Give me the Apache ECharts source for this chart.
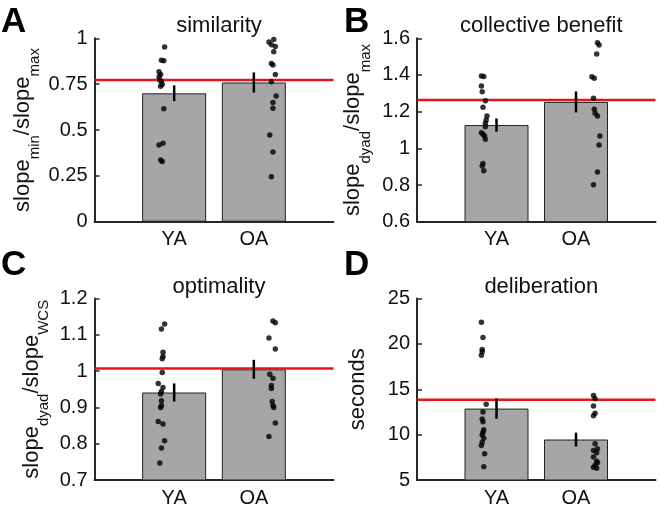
<!DOCTYPE html>
<html><head><meta charset="utf-8">
<script src="https://cdn.jsdelivr.net/npm/echarts@6/dist/echarts.min.js"></script>
<style>html,body{margin:0;padding:0;background:#fff}#c{width:660px;height:508px}</style>
</head><body><div id="c"></div>
<script>
// ---------- data ----------
const groups = ['YA', 'OA'];

// A: similarity
const simBar = [0.700, 0.759];
const simErr = [0.043, 0.055];
const simRef = 0.773;
const simYA = [0.953, 0.880, 0.877, 0.817, 0.803, 0.790, 0.772, 0.763, 0.748, 0.739, 0.616, 0.428, 0.418, 0.337, 0.328];
const simYAjit = [-0.12, -0.16, -0.13, -0.19, -0.17, -0.19, -0.18, -0.16, -0.15, -0.17, -0.13, -0.14, -0.19, -0.17, -0.15];
const simOA = [0.993, 0.980, 0.965, 0.955, 0.926, 0.862, 0.855, 0.803, 0.763, 0.685, 0.650, 0.618, 0.473, 0.380, 0.245];
const simOAjit = [0.25, 0.19, 0.22, 0.27, 0.25, 0.22, 0.24, 0.27, 0.22, 0.28, 0.24, 0.24, 0.20, 0.24, 0.22];

// B: collective benefit
const cbBar = [1.127, 1.253];
const cbErr = [0.036, 0.057];
const cbRef = 1.264;
const cbYA = [1.394, 1.392, 1.340, 1.309, 1.260, 1.224, 1.176, 1.155, 1.137, 1.118, 1.085, 1.077, 1.067, 1.049, 0.918, 0.904, 0.878];
const cbYAjit = [-0.19, -0.16, -0.19, -0.18, -0.14, -0.17, -0.12, -0.13, -0.14, -0.14, -0.19, -0.17, -0.15, -0.14, -0.17, -0.18, -0.16];
const cbOA = [1.576, 1.563, 1.514, 1.391, 1.382, 1.273, 1.213, 1.191, 1.176, 1.067, 1.018, 0.871, 0.802];
const cbOAjit = [0.27, 0.29, 0.26, 0.20, 0.23, 0.22, 0.23, 0.24, 0.27, 0.30, 0.29, 0.27, 0.22];

// C: optimality
const optBar = [0.941, 1.005];
const optErr = [0.025, 0.026];
const optRef = 1.007;
const optYA = [1.130, 1.116, 1.052, 1.040, 1.034, 0.996, 0.966, 0.955, 0.944, 0.937, 0.918, 0.905, 0.900, 0.861, 0.854, 0.808, 0.788, 0.747];
const optYAjit = [-0.12, -0.16, -0.14, -0.14, -0.15, -0.15, -0.20, -0.14, -0.16, -0.17, -0.16, -0.16, -0.17, -0.20, -0.14, -0.12, -0.16, -0.18];
const optOA = [1.138, 1.133, 1.091, 1.061, 0.991, 0.980, 0.960, 0.952, 0.916, 0.905, 0.900, 0.857, 0.820];
const optOAjit = [0.24, 0.27, 0.19, 0.27, 0.20, 0.24, 0.22, 0.22, 0.23, 0.24, 0.25, 0.27, 0.19];

// D: deliberation
const delBar = [12.87, 9.46];
const delErr = [1.12, 0.76];
const delRef = 13.84;
const delYA = [22.39, 20.70, 19.39, 19.13, 18.74, 13.34, 12.50, 11.71, 11.42, 10.54, 10.26, 9.97, 9.61, 9.17, 8.80, 7.90, 6.46];
const delYAjit = [-0.19, -0.17, -0.18, -0.18, -0.19, -0.13, -0.17, -0.18, -0.17, -0.16, -0.17, -0.18, -0.16, -0.18, -0.19, -0.15, -0.16];
const delOA = [14.32, 13.96, 13.15, 12.36, 12.07, 8.99, 8.45, 8.26, 8.01, 7.54, 7.07, 6.90, 6.63, 6.40, 6.30];
const delOAjit = [0.22, 0.24, 0.22, 0.24, 0.22, 0.24, 0.27, 0.22, 0.26, 0.22, 0.26, 0.27, 0.24, 0.22, 0.26];

// axis ranges / ticks
const yMin = [0, 0.6, 0.7, 5];
const yMax = [1, 1.6, 1.2, 25];
const yStep = [0.25, 0.2, 0.1, 5];
const titles = ['similarity', 'collective benefit', 'optimality', 'deliberation'];
const letters = ['A', 'B', 'C', 'D'];

// ---------- chart ----------
const F = '"Liberation Sans", Arial, Helvetica, sans-serif';
const TXT = '#111';
const AX = '#262626';
const grids = [
  {left: 94.5, top: 38.3, width: 239, height: 183.4},
  {left: 417, top: 38.3, width: 238.5, height: 183.4},
  {left: 94.5, top: 298.5, width: 239, height: 183.2},
  {left: 417, top: 298.5, width: 238.5, height: 183.2}
];
const names = [
  '{m|slope}{s|min}{m|/slope}{s|max}',
  '{m|slope}{s|dyad}{m|/slope}{s|max}',
  '{m|slope}{s|dyad}{m|/slope}{s|WCS}',
  '{m|seconds}'
];
const nameGaps = [52, 44, 43, 46];
const panels = [
  [simBar, simErr, simRef, simYA, simYAjit, simOA, simOAjit],
  [cbBar, cbErr, cbRef, cbYA, cbYAjit, cbOA, cbOAjit],
  [optBar, optErr, optRef, optYA, optYAjit, optOA, optOAjit],
  [delBar, delErr, delRef, delYA, delYAjit, delOA, delOAjit]
];

const xAxes = [], yAxes = [], series = [], title = [], graphic = [];
panels.forEach((p, i) => {
  const [bar, err, ref, ya, yaj, oa, oaj] = p;
  const g = grids[i];
  xAxes.push({
    gridIndex: i, type: 'value', min: 0, max: 3, interval: 1,
    axisLine: {show: true, onZero: false, lineStyle: {color: AX, width: 2}},
    axisTick: {show: false}, splitLine: {show: false},
    axisLabel: {fontSize: 20, fontFamily: F, color: TXT, margin: 8,
      formatter: v => (v >= 1 && v <= groups.length && Number.isInteger(v)) ? groups[v - 1] : ''}
  });
  yAxes.push({
    gridIndex: i, type: 'value', min: yMin[i], max: yMax[i], interval: yStep[i],
    axisLine: {show: true, lineStyle: {color: AX, width: 2}},
    axisTick: {show: true, inside: true, length: 5, lineStyle: {color: AX, width: 1.5}},
    splitLine: {show: false},
    axisLabel: {fontSize: 20, fontFamily: F, color: TXT, margin: 7},
    name: names[i], nameLocation: 'middle', nameRotate: 90, nameGap: nameGaps[i],
    nameTextStyle: {
      rich: {
        m: {fontSize: 22, fontFamily: F, color: TXT, lineHeight: 24, verticalAlign: 'top'},
        s: {fontSize: 15, fontFamily: F, color: TXT, lineHeight: 31, verticalAlign: 'bottom'}
      }
    }
  });
  series.push({
    type: 'bar', xAxisIndex: i, yAxisIndex: i, barWidth: 64, z: 1,
    data: bar.map((v, k) => [k + 1, v]),
    itemStyle: {color: '#a6a6a6', borderColor: '#222', borderWidth: 1}
  });
  series.push({
    type: 'line', xAxisIndex: i, yAxisIndex: i, symbol: 'none', z: 2,
    data: [[0, ref], [3, ref]],
    lineStyle: {color: '#e8131b', width: 2.5}
  });
  series.push({
    type: 'custom', xAxisIndex: i, yAxisIndex: i, z: 3,
    data: bar.map((v, k) => [k + 1, v, err[k]]),
    renderItem: (params, api) => {
      const x = api.value(0), m = api.value(1), e = api.value(2);
      const a = api.coord([x, m - e]), b = api.coord([x, m + e]);
      return {type: 'line', shape: {x1: a[0], y1: a[1], x2: b[0], y2: b[1]},
        style: {stroke: '#000', lineWidth: 2.5}};
    }
  });
  series.push({
    type: 'scatter', xAxisIndex: i, yAxisIndex: i, z: 4, symbolSize: 5.5,
    data: ya.map((v, k) => [1 + yaj[k], v]).concat(oa.map((v, k) => [2 + oaj[k], v])),
    itemStyle: {color: '#000'}
  });
  title.push({
    text: titles[i], left: g.left + g.width / 2, top: g.top - 28, textAlign: 'center',
    textStyle: {fontSize: 22, fontFamily: F, color: TXT, fontWeight: 'normal'}
  });
  graphic.push({
    type: 'text', left: i % 2 === 0 ? 1 : 344, top: i < 2 ? 5 : 248,
    style: {text: letters[i], font: 'bold 35px ' + F, fill: '#000'}
  });
});

const chart = echarts.init(document.getElementById('c'), null, {renderer: 'canvas'});
chart.setOption({
  animation: false,
  backgroundColor: '#fff',
  grid: grids,
  xAxis: xAxes,
  yAxis: yAxes,
  series: series,
  title: title,
  graphic: graphic
});
</script>
</body></html>
